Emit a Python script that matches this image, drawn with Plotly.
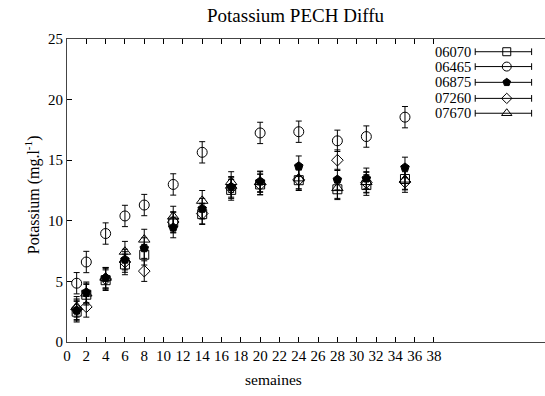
import plotly.graph_objects as go

# ---- data ----
series_names = ["06070", "06465", "06875", "07260", "07670"]
weeks_all = [1, 2, 4, 6, 8, 11, 14, 17, 20, 24, 28, 31, 35]
weeks_06465 = [1, 2, 4, 6, 8, 11, 14, 20, 24, 28, 31, 35]

k_06070 = [2.5, 3.9, 5.1, 6.4, 7.2, 9.85, 10.55, 12.55, 13.0, 13.35, 12.6, 12.95, 13.45]
k_06465 = [4.85, 6.6, 8.95, 10.4, 11.3, 13.0, 15.65, 17.25, 17.35, 16.6, 16.95, 18.55]
k_06875 = [2.6, 4.1, 5.3, 6.8, 7.75, 9.45, 11.0, 12.8, 13.25, 14.5, 13.4, 13.5, 14.4]
k_07260 = [2.7, 2.9, 5.2, 6.6, 5.85, 9.9, 10.6, 12.7, 13.0, 13.4, 15.0, 13.15, 13.2]
k_07670 = [2.9, 4.0, 5.3, 7.45, 8.45, 10.35, 11.65, 13.2, 13.2, 13.5, 12.7, 13.2, 13.4]

err_06070 = [0.85, 0.85, 0.85, 0.85, 0.85, 0.85, 0.85, 0.85, 0.85, 0.85, 0.85, 0.85, 0.85]
err_06465 = [0.88, 0.88, 0.88, 0.88, 0.88, 0.88, 0.88, 0.88, 0.88, 0.88, 0.88, 0.88]
err_06875 = [0.85, 0.85, 0.85, 0.85, 0.85, 0.85, 0.85, 0.85, 0.85, 0.85, 0.85, 0.85, 0.85]
err_07260 = [0.85, 0.85, 0.85, 0.85, 0.85, 0.85, 0.85, 0.85, 0.85, 0.85, 0.85, 0.85, 0.85]
err_07670 = [0.85, 0.85, 0.85, 0.85, 0.85, 0.85, 0.85, 0.85, 0.85, 0.85, 0.85, 0.85, 0.85]

x_ticks = list(range(0, 39, 2))
y_ticks = [0, 5, 10, 15, 20, 25]

# ---- styles ----
symbols = ["square-open", "circle-open", "pentagon", "diamond-open", "triangle-up-open"]
sizes = [9, 10, 9, 9, 10]
FONT = "Liberation Serif"

data = [
    (weeks_all, k_06070, err_06070),
    (weeks_06465, k_06465, err_06465),
    (weeks_all, k_06875, err_06875),
    (weeks_all, k_07260, err_07260),
    (weeks_all, k_07670, err_07670),
]

fig = go.Figure()
for (xs, ys, es), name, sym, sz in zip(data, series_names, symbols, sizes):
    fig.add_trace(go.Scatter(
        x=xs, y=ys, mode="markers", name=name,
        marker=dict(symbol=sym, size=sz, color="black", line=dict(color="black", width=1)),
        error_y=dict(type="data", array=es, visible=True, color="black", thickness=1, width=3),
        showlegend=False, cliponaxis=False,
    ))

# ---- custom gnuplot-like key (paper coordinates via overlay axes) ----
key_y = [0.958, 0.909, 0.857, 0.804, 0.755]
x_text, x_l0, x_l1, x_m = 0.849, 0.854, 0.972, 0.920
for name, sym, sz, ky in zip(series_names, symbols, sizes, key_y):
    fig.add_annotation(text=name, xref="paper", yref="paper", x=x_text, y=ky,
                       xanchor="right", yanchor="middle", showarrow=False,
                       font=dict(family=FONT, size=14.5, color="black"))
    fig.add_shape(type="line", xref="paper", yref="paper", x0=x_l0, x1=x_l1, y0=ky, y1=ky,
                  line=dict(color="black", width=1))
    for xe in (x_l0, x_l1):
        fig.add_shape(type="line", xref="paper", yref="paper", x0=xe, x1=xe,
                      y0=ky - 0.011, y1=ky + 0.011, line=dict(color="black", width=1))
    is_open = "open" in sym
    fig.add_trace(go.Scatter(
        x=[x_m], y=[ky], xaxis="x2", yaxis="y2", mode="markers", showlegend=False,
        marker=dict(symbol=sym.replace("-open", ""), size=sz - 1,
                    color="white" if is_open else "black",
                    line=dict(color="black", width=1)),
        hoverinfo="skip",
    ))

fig.add_annotation(text="Potassium PECH Diffu", xref="paper", yref="paper", x=0.479, y=1.078,
                   xanchor="center", yanchor="middle", showarrow=False,
                   font=dict(family=FONT, size=19, color="black"))
fig.add_annotation(text="semaines", xref="paper", yref="paper", x=0.431, y=-0.125,
                   xanchor="center", yanchor="middle", showarrow=False,
                   font=dict(family=FONT, size=15.5, color="black"))
fig.add_annotation(text="Potassium (mg.l<sup>-1</sup>)", xref="paper", yref="paper", x=-0.073, y=0.485,
                   xanchor="center", yanchor="middle", textangle=-90, showarrow=False,
                   font=dict(family=FONT, size=16, color="black"))

fig.update_layout(
    width=545, height=396,
    margin=dict(l=67, r=0, t=39, b=54, autoexpand=False),
    paper_bgcolor="white", plot_bgcolor="white",
    font=dict(family=FONT, size=15, color="black"),
    xaxis=dict(range=[0, 49.5], tickvals=x_ticks, ticktext=[str(v) for v in x_ticks],
               ticks="inside", ticklen=5, tickcolor="black", showline=True, linecolor="#444",
               linewidth=1, mirror="ticks", showgrid=False, zeroline=False, automargin=False,
               tickfont=dict(family=FONT, size=15)),
    yaxis=dict(range=[0, 25], tickvals=y_ticks, ticks="inside", ticklen=5, tickcolor="black",
               showline=True, linecolor="#444", linewidth=1, showgrid=False, zeroline=False,
               automargin=False, tickfont=dict(family=FONT, size=15)),
    xaxis2=dict(overlaying="x", range=[0, 1], visible=False, fixedrange=True),
    yaxis2=dict(overlaying="y", range=[0, 1], visible=False, fixedrange=True),
)

# remove the default 8px page margin so the figure sits at the window's top-left corner
fig.write_html("out.html", config={"displayModeBar": False},
               post_script="document.body.style.margin='0px';")
